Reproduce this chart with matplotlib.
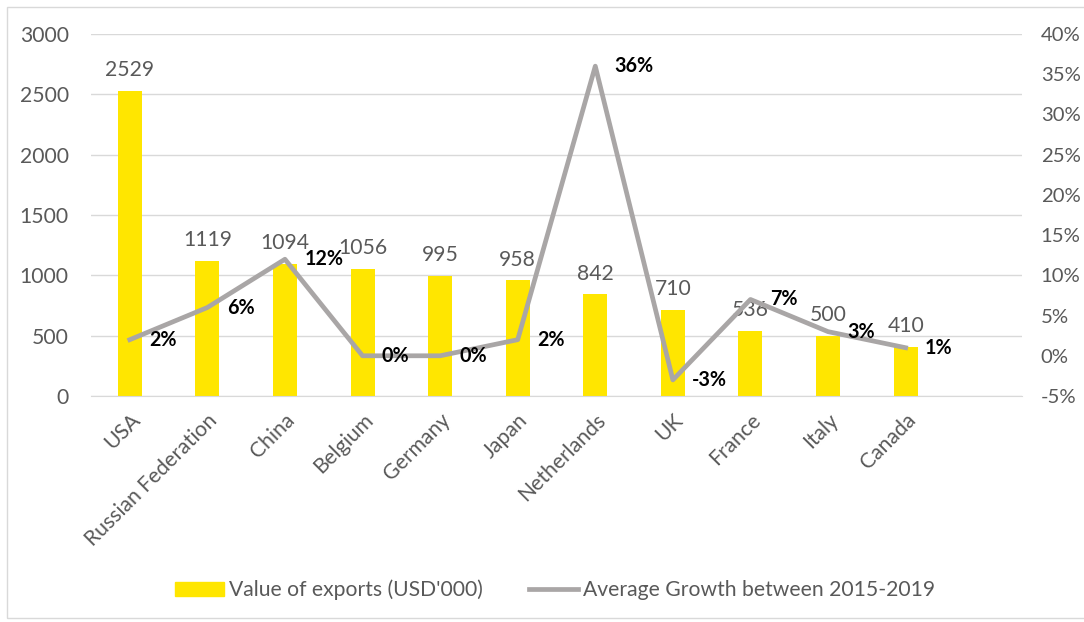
import matplotlib
matplotlib.use("Agg")
import matplotlib.pyplot as plt
from matplotlib.patches import Rectangle
from matplotlib.lines import Line2D
from matplotlib.ticker import FuncFormatter, MultipleLocator

countries = ["USA", "Russian Federation", "China", "Belgium", "Germany", "Japan",
             "Netherlands", "UK", "France", "Italy", "Canada"]
exports = [2529, 1119, 1094, 1056, 995, 958, 842, 710, 536, 500, 410]
growth = [2, 6, 12, 0, 0, 2, 36, -3, 7, 3, 1]

plt.rcParams['font.family'] = ['Lato', 'DejaVu Sans']
GRAY_TXT = '#595959'
YELLOW = '#FFE600'
LINE = '#A9A6A6'
FS = 15.2

fig = plt.figure(figsize=(10.84, 6.22), dpi=100)
W, H = 1084, 622
ax = fig.add_axes([91 / W, 1 - 396 / H, (1022 - 91) / W, (396 - 34) / H])
ax2 = ax.twinx()

x = list(range(len(countries)))
bars = ax.bar(x, exports, width=0.31, color=YELLOW, zorder=2)
ax.set_xlim(-0.5, 11.5)
ax.set_ylim(0, 3000)
ax.yaxis.set_major_locator(MultipleLocator(500))
ax.grid(axis='y', color='#D9D9D9', lw=1)
ax.set_axisbelow(True)
for s in ax.spines.values():
    s.set_visible(False)
for s in ax2.spines.values():
    s.set_visible(False)
ax.spines['bottom'].set_visible(True)
ax.spines['bottom'].set_color('#D9D9D9')
ax.tick_params(axis='both', length=0, colors=GRAY_TXT, labelsize=FS)
ax.tick_params(axis='y', pad=16)
ax.set_xticks(x)
ax.set_xticklabels(countries, rotation=45, ha='right', rotation_mode='anchor')
ax.tick_params(axis='x', pad=10)

for xi, v in zip(x, exports):
    ax.text(xi, v + 90, str(v), ha='center', va='bottom', fontsize=FS, color=GRAY_TXT)

ax2.plot(x, growth, color=LINE, lw=3.4, zorder=3)
ax2.set_ylim(-5, 40)
ax2.yaxis.set_major_locator(MultipleLocator(5))
ax2.yaxis.set_major_formatter(FuncFormatter(lambda v, p: f"{int(round(v))}%"))
ax2.tick_params(axis='y', length=0, colors=GRAY_TXT, labelsize=14.6, pad=13.5)
for xi, g in zip(x, growth):
    ax2.annotate(f"{g}%", (xi, g), xytext=(14, 0), textcoords='offset points',
                 ha='left', va='center', fontsize=14.2, fontweight='bold', color='black')

handles = [Rectangle((0, 0), 1, 1, color=YELLOW),
           Line2D([0], [0], color=LINE, lw=3.4)]
fig.legend(handles, ["Value of exports (USD'000)", "Average Growth between 2015-2019"],
           loc='center', bbox_to_anchor=(555 / W, 1 - 590 / H), ncol=2, frameon=False,
           fontsize=FS, labelcolor=GRAY_TXT, handlelength=2.3, handletextpad=0.25,
           columnspacing=2.2)

fig.patches.append(Rectangle((7 / W, 4 / H), (W + 10) / W, (H - 11) / H,
                             transform=fig.transFigure, fill=False,
                             edgecolor='#D9D9D9', lw=1))
fig.savefig('out.png', dpi=100)
